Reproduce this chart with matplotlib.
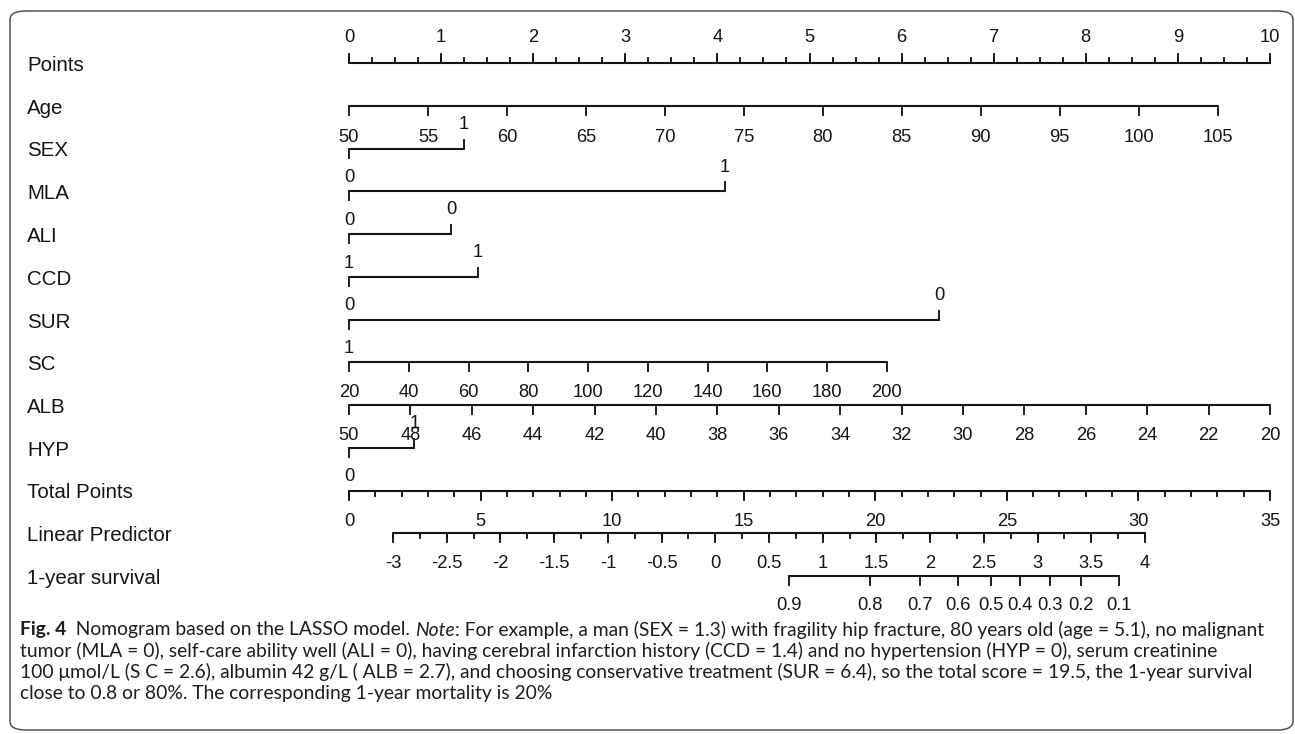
import numpy as np
import matplotlib
matplotlib.use("Agg")
import matplotlib.pyplot as plt
from matplotlib import font_manager
from matplotlib.patches import FancyBboxPatch
from matplotlib.transforms import blended_transform_factory

# --- scales of the nomogram (values read as points 0-10) ---
row_names = ["Points", "Age", "SEX", "MLA", "ALI", "CCD", "SUR", "SC", "ALB",
             "HYP", "Total Points", "Linear Predictor", "1-year survival"]

points_major = list(range(0, 11))
points_minor = list(np.arange(0, 10.01, 0.25))

age_ticks = [50, 55, 60, 65, 70, 75, 80, 85, 90, 95, 100, 105]
age_range = (50, 105)
age_points = (0.0, 9.43)

# categorical predictors: (left level, right level, points of right level)
categorical = {
    "SEX": ("0", "1", 1.25),
    "MLA": ("0", "1", 4.08),
    "ALI": ("1", "0", 1.11),
    "CCD": ("0", "1", 1.40),
    "SUR": ("1", "0", 6.41),
    "HYP": ("0", "1", 0.71),
}

sc_ticks = [20, 40, 60, 80, 100, 120, 140, 160, 180, 200]
sc_range = (20, 200)
sc_points = (0.0, 5.84)

alb_ticks = [50, 48, 46, 44, 42, 40, 38, 36, 34, 32, 30, 28, 26, 24, 22, 20]
alb_range = (50, 20)
alb_points = (0.0, 10.0)

total_major = [0, 5, 10, 15, 20, 25, 30, 35]
total_minor = list(range(0, 36))
total_max = 35

lp_major = list(np.arange(-3, 4.01, 0.5))
lp_minor = list(np.arange(-3, 4.01, 0.25))
lp_range = (-3, 4)
lp_total = (1.67, 30.25)

surv_labels = ["0.9", "0.8", "0.7", "0.6", "0.5", "0.4", "0.3", "0.2", "0.1"]
surv_total = [16.72, 19.80, 21.70, 23.15, 24.40, 25.50, 26.64, 27.82, 29.27]

caption = [
    [("Fig. 4", "bold", "normal"), ("  Nomogram based on the LASSO model. ", "normal", "normal"),
     ("Note", "normal", "italic"),
     (": For example, a man (SEX = 1.3) with fragility hip fracture, 80 years old (age = 5.1), no malignant",
      "normal", "normal")],
    [("tumor (MLA = 0), self-care ability well (ALI = 0), having cerebral infarction history (CCD = 1.4) "
      "and no hypertension (HYP = 0), serum creatinine", "normal", "normal")],
    [("100 \u03bcmol/L (S C = 2.6), albumin 42 g/L ( ALB = 2.7), and choosing conservative treatment "
      "(SUR = 6.4), so the total score = 19.5, the 1-year survival", "normal", "normal")],
    [("close to 0.8 or 80%. The corresponding 1-year mortality is 20%", "normal", "normal")],
]


def lin(v, src, dst):
    return dst[0] + (v - src[0]) * (dst[1] - dst[0]) / (src[1] - src[0])


def pick_font(names):
    avail = {f.name for f in font_manager.fontManager.ttflist}
    for n in names:
        if n in avail:
            return n
    return "DejaVu Sans"


NARROW = pick_font(["Liberation Sans Narrow", "Liberation Sans", "Arial"])
narrow_ok = NARROW == "Liberation Sans Narrow"
CAPFONT = pick_font(["Lato", "Open Sans", "Noto Sans"])
INK = "#151515"

W, H = 1295, 734
fig = plt.figure(figsize=(W / 100, H / 100), dpi=100)
fig.patch.set_facecolor("white")

# axes: x in points (0..10), y in pixel rows from the top
top_px, bot_px = 63, 576
left_px, right_px = 349, 1270
ax = fig.add_axes([left_px / W, 1 - bot_px / H, (right_px - left_px) / W, (bot_px - top_px) / H])
ax.set_xlim(0, 10)
ax.set_ylim(bot_px, top_px)
ax.axis("off")

row_gap = (bot_px - top_px) / (len(row_names) - 1)
row_y = {name: top_px + i * row_gap for i, name in enumerate(row_names)}

LW = 1.5
MAJ, MINL = 9, 5
BELOW, ABOVE = 30, -24
tick_fs = 14.5 if narrow_ok else 13.2
name_fs = 16.5 if narrow_ok else 14.8


def hline(x0, x1, y):
    ax.plot([x0, x1], [y, y], color=INK, lw=LW, solid_capstyle="butt", clip_on=False)


def tick(x, y, length):
    ax.plot([x, x], [y, y + length], color=INK, lw=LW * 0.9, clip_on=False)


def label(x, y, s):
    ax.text(x, y, s, ha="center", va="center", fontsize=tick_fs, family=NARROW,
            color=INK, clip_on=False)


# Points axis (ticks and labels above)
y = row_y["Points"]
hline(0, 10, y)
for v in points_minor:
    tick(v, y, -MINL)
for v in points_major:
    tick(v, y, -MAJ)
    label(v, y + ABOVE - 1, str(v))

# Age
y = row_y["Age"]
hline(*age_points, y)
for a in age_ticks:
    x = lin(a, age_range, age_points)
    tick(x, y, MAJ)
    label(x, y + BELOW + 2, str(a))

# categorical rows: left level below the line, right level above
for name, (lo, hi, pts) in categorical.items():
    y = row_y[name]
    hline(0, pts, y)
    tick(0, y, MAJ)
    tick(pts, y, -MAJ)
    label(0, y + BELOW - 1, lo)
    label(pts, y + ABOVE, hi)

# SC
y = row_y["SC"]
hline(*sc_points, y)
for v in sc_ticks:
    x = lin(v, sc_range, sc_points)
    tick(x, y, MAJ)
    label(x, y + BELOW, str(v))

# ALB
y = row_y["ALB"]
hline(*alb_points, y)
for v in alb_ticks:
    x = lin(v, alb_range, alb_points)
    tick(x, y, MAJ)
    label(x, y + BELOW, str(v))

# Total points
y = row_y["Total Points"]
to_pts = lambda t: t * 10 / total_max
hline(0, 10, y)
for t in total_minor:
    tick(to_pts(t), y, MINL)
for t in total_major:
    tick(to_pts(t), y, MAJ)
    label(to_pts(t), y + BELOW + 1, str(t))

# Linear predictor
y = row_y["Linear Predictor"]
lp_x = lambda v: to_pts(lin(v, lp_range, lp_total))
hline(lp_x(lp_range[0]), lp_x(lp_range[1]), y)
for v in lp_minor:
    tick(lp_x(v), y, MINL)
for v in lp_major:
    tick(lp_x(v), y, MAJ)
    label(lp_x(v), y + BELOW, f"{v:g}")

# 1-year survival
y = row_y["1-year survival"]
sx = [to_pts(t) for t in surv_total]
hline(sx[0], sx[-1], y)
for x, s in zip(sx, surv_labels):
    tick(x, y, MAJ)
    label(x, y + BELOW - 1, s)

# row names on the left
tr = blended_transform_factory(fig.transFigure, ax.transData)
for name in row_names:
    ax.text(27 / W, row_y[name] + 2.5, name, transform=tr, ha="left", va="center",
            fontsize=name_fs, family=NARROW, color=INK, clip_on=False)

# caption, drawn piece by piece so bold/italic runs line up
renderer = fig.canvas.get_renderer()
cap_fs = 13.85
for i, line in enumerate(caption):
    x = 20
    ypx = 630 + i * 21
    for text, weight, style in line:
        t = fig.text(x / W, 1 - ypx / H, text, ha="left", va="center", fontsize=cap_fs,
                     family=CAPFONT, fontweight=weight, fontstyle=style, color="#1e1e1e")
        x += t.get_window_extent(renderer).width

# rounded frame around figure and caption
frame = FancyBboxPatch((10 / W, 4 / H), (1293 - 10) / W, (723 - 4) / H,
                       boxstyle="round,pad=0,rounding_size=0.012", transform=fig.transFigure,
                       fill=False, edgecolor="#555555", lw=1.1)
fig.patches.append(frame)

fig.savefig("out.png", dpi=100)
